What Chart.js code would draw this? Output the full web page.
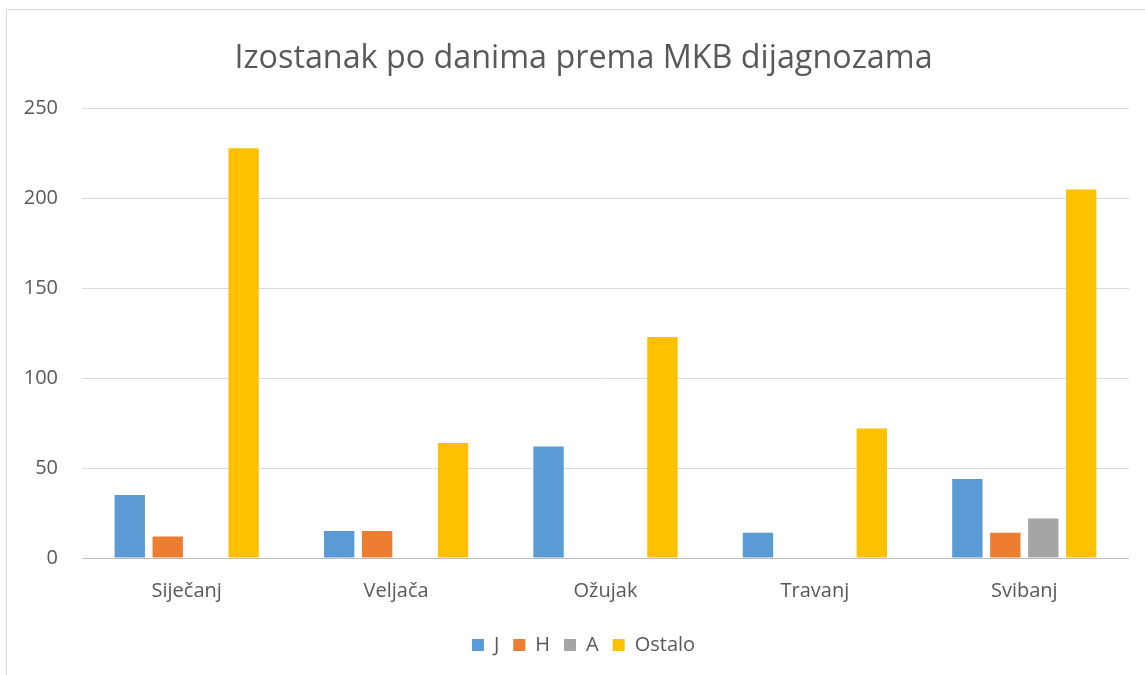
<!DOCTYPE html>
<html>
<head>
<meta charset="utf-8">
<title>Izostanak po danima prema MKB dijagnozama</title>
<script src="https://cdn.jsdelivr.net/npm/chart.js@4"></script>
<style>
  html, body { margin: 0; padding: 0; background: #fff; overflow: hidden; }
  #frame {
    position: absolute; left: 6px; top: 9px;
    width: 1200px; height: 700px;
    border: 1px solid #d9d9d9;
  }
  #chart { position: absolute; left: 0; top: 0; }
</style>
</head>
<body>
<div id="frame"></div>
<canvas id="chart" width="1145" height="675"></canvas>
<script>
const months = ["Siječanj", "Veljača", "Ožujak", "Travanj", "Svibanj"];
const valuesJ = [35, 15, 62, 14, 44];
const valuesH = [12, 15, 0, 0, 14];
const valuesA = [0, 0, 0, 0, 22];
const valuesOstalo = [228, 64, 123, 72, 205];

const textColor = "#595959";
const fontFamily = "'Open Sans', 'Noto Sans', sans-serif";

const makeSet = (label, data, color) => ({
  label,
  data,
  backgroundColor: color,
  borderWidth: 0,
  categoryPercentage: 0.725,
  barPercentage: 0.8,
});

// title and legend sit a little right of the canvas centre in the original
const nudgeBoxes = {
  id: "nudgeBoxes",
  afterLayout(chart) {
    for (const box of [chart.titleBlock, chart.legend]) {
      if (!box) continue;
      box.left += 9;
      box.right += 9;
    }
  },
};

new Chart(document.getElementById("chart").getContext("2d"), {
  type: "bar",
  data: {
    labels: months,
    datasets: [
      makeSet("J", valuesJ, "#5b9bd5"),
      makeSet("H", valuesH, "#ed7d31"),
      makeSet("A", valuesA, "#a5a5a5"),
      makeSet("Ostalo", valuesOstalo, "#ffc000"),
    ],
  },
  options: {
    responsive: false,
    animation: false,
    layout: {
      padding: { left: 20, right: 16, top: 0, bottom: 10 },
    },
    scales: {
      x: {
        grid: { display: false },
        border: { display: false },
        ticks: {
          color: textColor,
          font: { family: fontFamily, size: 20 },
          padding: 13,
        },
        // a bit of extra room between month labels and legend
        afterFit: (scale) => {
          scale.height += 5;
        },
      },
      y: {
        min: 0,
        max: 250,
        border: { display: false },
        grid: {
          drawTicks: false,
          color: (ctx) => (ctx.tick && ctx.tick.value === 0 ? "#bfbfbf" : "#d9d9d9"),
          lineWidth: 1,
        },
        ticks: {
          stepSize: 50,
          color: textColor,
          font: { family: fontFamily, size: 20 },
          padding: 24,
        },
        afterFit: (scale) => {
          scale.width = 62;
        },
      },
    },
    plugins: {
      title: {
        display: true,
        text: "Izostanak po danima prema MKB dijagnozama",
        color: textColor,
        font: { family: fontFamily, size: 32.3, weight: "normal" },
        padding: { top: 39, bottom: 31 },
      },
      legend: {
        position: "bottom",
        labels: {
          color: textColor,
          font: { family: fontFamily, size: 20 },
          boxWidth: 12,
          boxHeight: 12,
          padding: 14,
          useBorderRadius: false,
        },
      },
      tooltip: { enabled: false },
    },
  },
  plugins: [nudgeBoxes],
});
</script>
</body>
</html>
